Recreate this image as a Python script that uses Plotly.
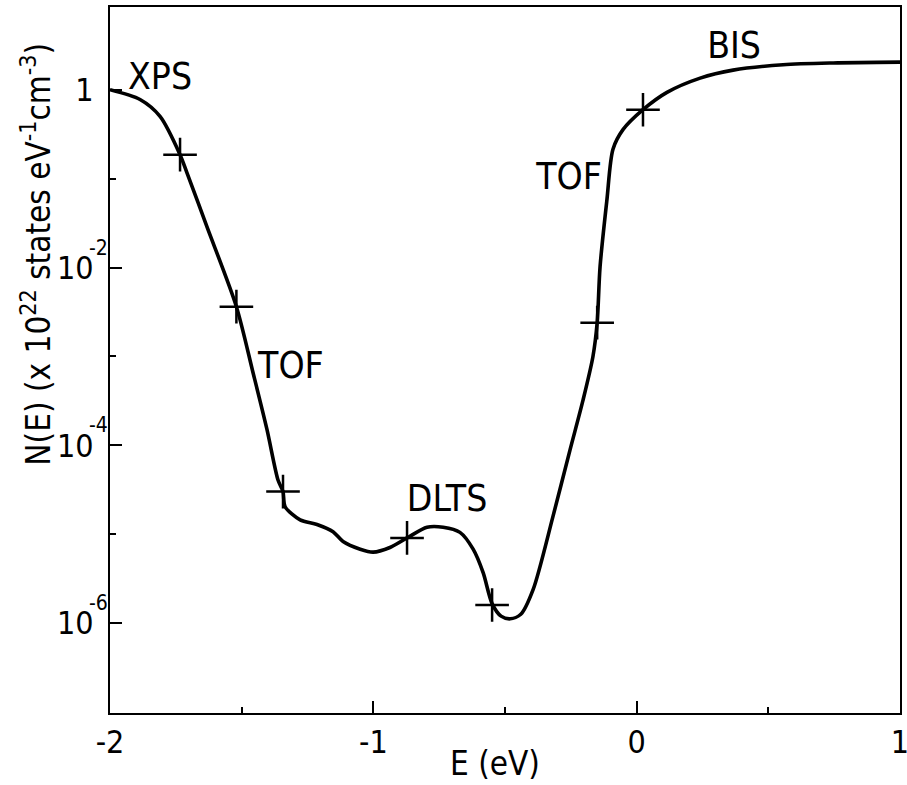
import math
import plotly.graph_objects as go

# Curve (E in eV, N(E) in 1e22 states eV^-1 cm^-3)
energy = [-2.00, -1.886, -1.81, -1.734, -1.708, -1.632, -1.52, -1.457, -1.404, -1.362,
          -1.343, -1.335, -1.278, -1.214, -1.153, -1.115, -1.050, -1.001, -0.937, -0.872,
          -0.796, -0.735, -0.671, -0.621, -0.583, -0.549, -0.515, -0.48, -0.44, -0.393,
          -0.318, -0.253, -0.204, -0.166, -0.150, -0.139, -0.113, -0.090, -0.052, 0.024,
          0.115, 0.241, 0.366, 0.556, 0.746, 1.00]
density = [1.0, 0.776, 0.501, 0.186, 0.117, 0.0288, 0.00363, 6.6e-4, 1.51e-4, 4.07e-5,
           3.02e-5, 2.04e-5, 1.45e-5, 1.29e-5, 1.07e-5, 8.3e-6, 6.8e-6, 6.3e-6, 7.1e-6, 9.1e-6,
           1.2e-5, 1.2e-5, 1.05e-5, 6.8e-6, 3.7e-6, 1.66e-6, 1.2e-6, 1.12e-6, 1.26e-6, 2.4e-6,
           1.58e-5, 8.9e-5, 3.2e-4, 1.0e-3, 2.4e-3, 0.0102, 0.0575, 0.214, 0.355, 0.596,
           0.933, 1.35, 1.66, 1.91, 2.0, 2.04]

# Measured points marked with crosses
cross_energy = [-1.734, -1.52, -1.343, -0.872, -0.549, -0.150, 0.024]
cross_density = [0.186, 0.00363, 3.02e-5, 9.1e-6, 1.6e-6, 2.4e-3, 0.596]

# Method labels
label_text = ["XPS", "TOF", "DLTS", "TOF", "BIS"]
label_energy = [-1.81, -1.313, -0.72, -0.257, 0.37]
label_density = [1.28, 7.3e-4, 2.3e-5, 0.097, 2.9]

x_tickvals = [-2, -1, 0, 1]
x_ticktext = ["-2", "-1", "0", "1"]
x_minor = [-1.5, -0.5, 0.5]
y_tickvals = [1, 1e-2, 1e-4, 1e-6]
y_ticktext = ["1", "10", "10", "10"]
y_exponent_vals = [1e-2, 1e-4, 1e-6]
y_exponent_text = ["-2", "-4", "-6"]
y_minor = [1e-1, 1e-3, 1e-5]

FONT = "DejaVu Sans Condensed, Liberation Sans Narrow, Arial Narrow, sans-serif"

fig = go.Figure()
fig.add_trace(go.Scatter(x=energy, y=density, mode="lines",
                         line=dict(color="black", width=3.6, shape="spline", smoothing=0.8),
                         hoverinfo="skip", showlegend=False))
fig.add_trace(go.Scatter(x=cross_energy, y=cross_density, mode="markers",
                         marker=dict(symbol="cross-thin", size=24,
                                     line=dict(color="black", width=2.5)),
                         showlegend=False))
fig.add_trace(go.Scatter(x=label_energy, y=label_density, mode="text", text=label_text,
                         textfont=dict(family=FONT, size=37, color="black"),
                         showlegend=False))

fig.update_xaxes(range=[-2, 1], tickvals=x_tickvals, ticktext=x_ticktext, automargin=False,
                 ticks="inside", ticklen=12, tickwidth=2, tickcolor="black",
                 ticklabeloverflow="allow",
                 showline=True, linewidth=2, linecolor="black", mirror=True,
                 showgrid=False, zeroline=False,
                 tickfont=dict(family=FONT, size=32, color="black"),
                 minor=dict(tickvals=x_minor, ticks="inside", ticklen=6, tickwidth=2,
                            tickcolor="black", showgrid=False))
fig.update_yaxes(type="log", range=[-7.01, 0.93], tickvals=y_tickvals, ticktext=y_ticktext,
                 automargin=False, ticklabelstandoff=8,
                 ticks="inside", ticklen=12, tickwidth=2, tickcolor="black",
                 showline=True, linewidth=2, linecolor="black", mirror=True,
                 showgrid=False, zeroline=False,
                 tickfont=dict(family=FONT, size=32, color="black"),
                 minor=dict(tickvals=y_minor, ticks="inside", ticklen=6, tickwidth=2,
                            tickcolor="black", showgrid=False))

# exponents of the decade tick labels, tucked against the axis like the original
for val, txt in zip(y_exponent_vals, y_exponent_text):
    fig.add_annotation(text=txt, xref="paper", yref="y", x=-0.001, y=math.log10(val),
                       xanchor="right", yanchor="middle", yshift=20, showarrow=False,
                       borderpad=0, font=dict(family=FONT, size=21, color="black"))

fig.add_annotation(text="E (eV)", xref="paper", yref="paper", x=0.487, y=-0.072,
                   xanchor="center", yanchor="middle", showarrow=False,
                   font=dict(family=FONT, size=33, color="black"))
fig.add_annotation(text="N(E) (x 10<sup>22</sup> states eV<sup>-1</sup>cm<sup>-3</sup>)",
                   xref="paper", yref="paper", x=-0.093, y=0.65, textangle=-90,
                   xanchor="center", yanchor="middle", showarrow=False,
                   font=dict(family=FONT, size=33, color="black"))

fig.update_layout(width=907, height=785, plot_bgcolor="white", paper_bgcolor="white",
                  margin=dict(l=110, r=7, t=7, b=72),
                  font=dict(family=FONT, color="black"))

fig.write_html("out.html", config={"displayModeBar": False},
               post_script="document.body.style.margin='0';document.body.style.overflow='hidden';")
